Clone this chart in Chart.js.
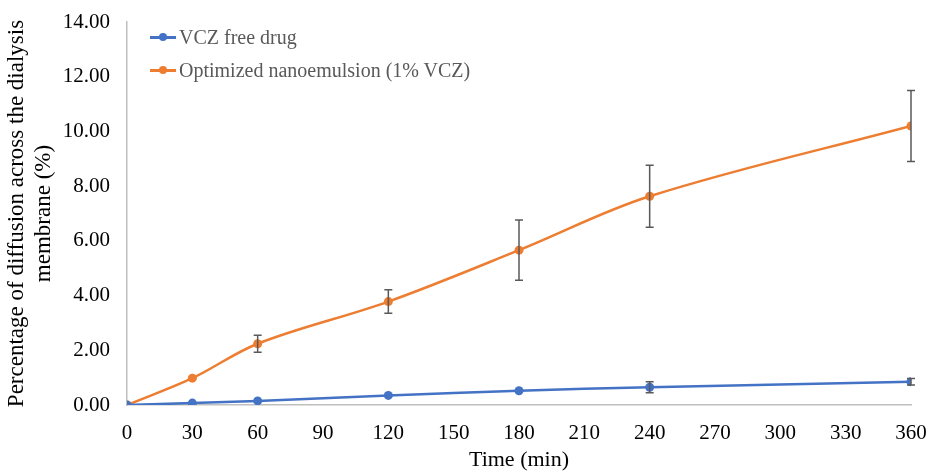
<!DOCTYPE html>
<html>
<head>
<meta charset="utf-8">
<script src="https://cdn.jsdelivr.net/npm/chart.js@4/dist/chart.umd.min.js"></script>
<style>
  body { margin: 0; background: #fff; }
  #wrap { position: relative; width: 927px; height: 474px; }
  #legend { position: absolute; left: 150px; top: 21px; font-family: "Liberation Serif", "Times New Roman", serif; font-size: 20px; color: #595959; }
  #legend div { display: flex; align-items: center; height: 33px; }
  #legend .mk { position: relative; width: 26px; height: 2.5px; margin-right: 3px; }
  #legend .mk i { position: absolute; left: 9px; top: -3px; width: 8px; height: 8px; border-radius: 50%; }
</style>
</head>
<body>
<div id="wrap">
  <canvas id="chart"></canvas>
  <div id="legend"></div>
</div>
<script>
  const times = [0, 30, 60, 120, 180, 240, 360];
  const freeDrug = [0, 0.07, 0.15, 0.35, 0.52, 0.65, 0.85];
  const freeDrugErr = [0, 0, 0, 0, 0, 0.2, 0.12];
  const nanoEmulsion = [0, 0.98, 2.24, 3.78, 5.66, 7.63, 10.2];
  const nanoEmulsionErr = [0, 0, 0.31, 0.43, 1.1, 1.13, 1.3];
  const yTicks = [0, 2, 4, 6, 8, 10, 12, 14];

  const serif = '"Liberation Serif", "Times New Roman", serif';

  // garis error bar (vertikal + cap)
  const errorBars = {
    id: 'errorBars',
    afterDatasetsDraw(chart) {
      const { ctx, scales: { x, y } } = chart;
      ctx.save();
      ctx.strokeStyle = '#595959';
      ctx.lineWidth = 1.5;
      chart.data.datasets.forEach(ds => {
        ds.data.forEach((p, i) => {
          const e = ds.errors[i];
          if (!e) return;
          const px = x.getPixelForValue(p.x);
          const top = y.getPixelForValue(p.y + e);
          const bot = y.getPixelForValue(p.y - e);
          ctx.beginPath();
          ctx.moveTo(px, top); ctx.lineTo(px, bot);
          ctx.moveTo(px - 4, top); ctx.lineTo(px + 4, top);
          ctx.moveTo(px - 4, bot); ctx.lineTo(px + 4, bot);
          ctx.stroke();
        });
      });
      ctx.restore();
    }
  };

  const makeSet = (label, vals, errs, color) => ({
    label,
    data: times.map((t, i) => ({ x: t, y: vals[i] })),
    errors: errs,
    borderColor: color,
    backgroundColor: color,
    borderWidth: 2.5,
    pointRadius: 4.5,
    pointBorderWidth: 0,
    tension: 0.35,
    fill: false
  });

  const chart = new Chart(document.getElementById('chart'), {
    type: 'line',
    data: {
      datasets: [
        makeSet('VCZ free drug', freeDrug, freeDrugErr, '#4472C4'),
        makeSet('Optimized nanoemulsion (1% VCZ)', nanoEmulsion, nanoEmulsionErr, '#ED7D31')
      ]
    },
    options: {
      responsive: true,
      maintainAspectRatio: false,
      animation: false,
      layout: { padding: { top: 22, right: 0, left: 0, bottom: 0 } },
      plugins: { legend: { display: false }, tooltip: { enabled: false } },
      scales: {
        x: {
          type: 'linear',
          min: 0, max: 360,
          afterFit: s => { s.height = 69; s.paddingRight = 16; },
          ticks: { stepSize: 30, color: '#000', padding: 8, font: { family: serif, size: 21 } },
          grid: { display: false },
          border: { color: '#bfbfbf', width: 1.5 },
          title: { display: true, text: 'Time (min)', color: '#000', padding: { top: 0, bottom: 1 }, font: { family: serif, size: 22 } }
        },
        y: {
          min: 0, max: 14,
          afterFit: s => { s.width = 127; s.paddingTop = 0; },
          afterBuildTicks: s => { s.ticks = yTicks.map(v => ({ value: v })); },
          ticks: { color: '#000', padding: 9, callback: v => v.toFixed(2), font: { family: serif, size: 21 } },
          grid: { display: false },
          border: { color: '#bfbfbf', width: 1.5 },
          title: {
            display: true,
            text: ['Percentage of diffusion across the dialysis', 'membrane (%)'],
            color: '#000',
            padding: { top: 3, bottom: 0 },
            font: { family: serif, size: 23, lineHeight: 1.2 }
          }
        }
      }
    },
    plugins: [errorBars]
  });

  document.getElementById('legend').innerHTML = chart.data.datasets.map(ds =>
    `<div><span class="mk" style="background:${ds.borderColor}"><i style="background:${ds.borderColor}"></i></span>${ds.label}</div>`
  ).join('');
</script>
</body>
</html>
